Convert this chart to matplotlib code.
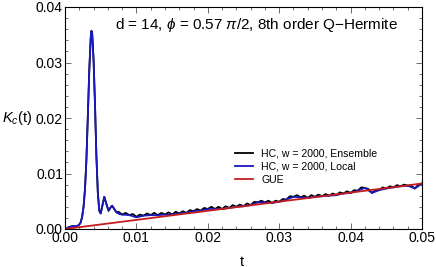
import numpy as np
import matplotlib
matplotlib.use("Agg")
import matplotlib.pyplot as plt
from matplotlib.ticker import MultipleLocator

plt.rcParams["font.family"] = ["Liberation Sans", "DejaVu Sans"]
plt.rcParams["mathtext.fontset"] = "custom"
plt.rcParams["mathtext.rm"] = "Liberation Sans"
plt.rcParams["mathtext.it"] = "Liberation Sans:italic"

# local (HC, w = 2000)
local_t = [0, 0.0005, 0.001, 0.0015, 0.0018, 0.002, 0.0022, 0.0024, 0.0026,
           0.0028, 0.003, 0.0032, 0.0034, 0.0036, 0.0037, 0.0038, 0.004,
           0.0042, 0.0044, 0.0046, 0.0048, 0.005, 0.0052, 0.0055, 0.0058,
           0.0061, 0.0064, 0.0066, 0.0069, 0.0072, 0.0076, 0.008,
           0.009, 0.010, 0.011, 0.012, 0.013, 0.014, 0.015, 0.016, 0.017,
           0.018, 0.019, 0.020, 0.021, 0.022, 0.023, 0.024, 0.025, 0.026,
           0.027, 0.028, 0.029, 0.030, 0.031, 0.032, 0.033, 0.034, 0.035,
           0.036, 0.037, 0.038, 0.039, 0.040, 0.041, 0.042, 0.043, 0.044,
           0.045, 0.046, 0.047, 0.048, 0.049, 0.050]
local_k = [0, 0.0003, 0.0005, 0.0005, 0.0006, 0.0008, 0.0012, 0.0022, 0.0040,
           0.0072, 0.0125, 0.0204, 0.0286, 0.0344, 0.0357, 0.0354, 0.0305,
           0.0225, 0.0130, 0.0065, 0.0033, 0.0028, 0.0040, 0.0058, 0.0045,
           0.0033, 0.0039, 0.0042, 0.0036, 0.0030, 0.0027, 0.0026,
           0.0025, 0.0021, 0.0024, 0.0025, 0.0025, 0.0026, 0.0026, 0.0028, 0.0029,
           0.0032, 0.0033, 0.0036, 0.0036, 0.0036, 0.0038, 0.0040, 0.0041, 0.0043,
           0.0048, 0.0048, 0.0047, 0.0049, 0.0053, 0.0058, 0.0057, 0.0056, 0.0058,
           0.0059, 0.0060, 0.0061, 0.0064, 0.0065, 0.0069, 0.0074, 0.0065, 0.0070,
           0.0073, 0.0075, 0.0077, 0.0078, 0.0073, 0.0082]

# ensemble: same as local up to t = 0.0072, then small oscillations
ens_tail_t = np.arange(15, 101) * 0.0005
ens_tail_k = [0.0031, 0.0026, 0.0029, 0.0025, 0.0027, 0.0022, 0.0026, 0.0024,
              0.0028, 0.0025, 0.0029, 0.0025, 0.0029, 0.0026, 0.0030, 0.0026,
              0.0031, 0.0028, 0.0032, 0.0029, 0.0034, 0.0032, 0.0036, 0.0033,
              0.0038, 0.0036, 0.0040, 0.0036, 0.0040, 0.0036, 0.0041, 0.0038,
              0.0043, 0.0040, 0.0044, 0.0041, 0.0046, 0.0043, 0.0049, 0.0048,
              0.0051, 0.0048, 0.0051, 0.0047, 0.0051, 0.0049, 0.0054, 0.0053,
              0.0059, 0.0058, 0.0061, 0.0057, 0.0060, 0.0056, 0.0061, 0.0058,
              0.0062, 0.0059, 0.0063, 0.0060, 0.0064, 0.0061, 0.0066, 0.0064,
              0.0068, 0.0065, 0.0070, 0.0069, 0.0075, 0.0074, 0.0072, 0.0065,
              0.0070, 0.0070, 0.0075, 0.0073, 0.0077, 0.0075, 0.0079, 0.0077,
              0.0080, 0.0078, 0.0078, 0.0073, 0.0080, 0.0082]
ens_t = list(local_t[:30]) + list(ens_tail_t)
ens_k = list(local_k[:30]) + list(ens_tail_k)

gue_t = [0, 0.025, 0.05]
gue_k = [0, 0.0041, 0.0082]

fig = plt.figure(figsize=(4.36, 2.67), dpi=100)
ax = fig.add_axes([65 / 436, 38 / 267, 357 / 436, 222 / 267])

ax.plot(ens_t, ens_k, color="black", lw=1.3, label="HC, w = 2000, Ensemble")
ax.plot(local_t, local_k, color="#1818c0", lw=1.3, label="HC, w = 2000, Local")
ax.plot(gue_t, gue_k, color="#c41c1c", lw=1.3, label="GUE")

ax.set_xlim(0, 0.05)
ax.set_ylim(0, 0.04)
ax.xaxis.set_major_locator(MultipleLocator(0.01))
ax.xaxis.set_minor_locator(MultipleLocator(0.002))
ax.yaxis.set_major_locator(MultipleLocator(0.01))
ax.yaxis.set_minor_locator(MultipleLocator(0.002))
ax.xaxis.set_major_formatter(lambda v, p: f"{v:.2f}")
ax.yaxis.set_major_formatter(lambda v, p: f"{v:.2f}")
ax.tick_params(which="both", direction="in", top=True, right=True,
               labelsize=10, pad=1.5, width=0.6, color="#555555")
ax.tick_params(which="major", length=4)
ax.tick_params(which="minor", length=2.2)
for s in ax.spines.values():
    s.set_linewidth(0.8)

ax.set_xlabel("t", fontsize=10.5)
ax.xaxis.set_label_coords(0.496, -0.115)
ax.set_ylabel("$K_c$(t)", fontsize=10.5, rotation=0, va="center", ha="center")
ax.yaxis.set_label_coords(-0.133, 0.5)

ax.text(0.536, 0.919, r"d = 14, $\phi$ = 0.57 $\pi$/2, 8th order Q$-$Hermite",
        transform=ax.transAxes, ha="center", va="center", fontsize=11)

ax.legend(loc="lower right", bbox_to_anchor=(0.89, 0.175), frameon=False,
          fontsize=7.6, handlelength=1.7, handletextpad=0.8,
          labelspacing=0.3, borderpad=0)

fig.savefig("out.png", dpi=100)
